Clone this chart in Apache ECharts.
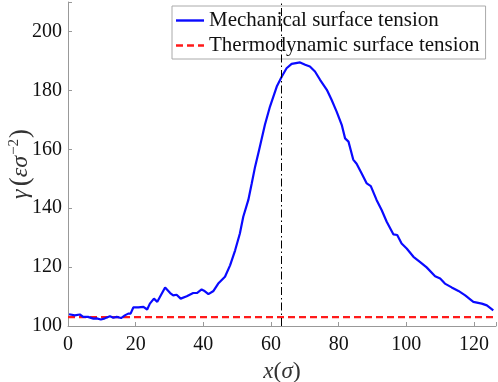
<!DOCTYPE html>
<html>
<head>
<meta charset="utf-8">
<script src="https://cdn.jsdelivr.net/npm/echarts@6/dist/echarts.min.js"></script>
<style>html,body{margin:0;padding:0;background:#fff}#c{width:498px;height:382px}</style>
</head>
<body>
<div id="c"></div>
<script>
const mechX = [0.3,2,3.5,4.5,5.9,7.5,8.5,9.7,10.9,12.4,13.4,14.4,15.7,16.8,17.8,18.5,19.3,20.8,22.3,23.4,24.2,25.4,26.4,27.2,28.7,30.2,31.1,32.1,33.3,35.1,37.0,38.1,39.5,40.2,41.5,43.0,44.4,46.4,47.9,49.4,50.8,51.8,53.3,54.3,55.3,56.5,58.2,59.7,61.7,63.2,64.6,66.1,68.6,70.1,71.5,73.0,74.5,76.5,77.9,79.4,80.9,81.9,82.9,84.3,85.3,86.8,88.3,89.5,91.2,92.7,94.2,96.2,97.3,98.6,100.1,102.1,104.0,106.0,108.5,110.0,111.4,113.4,115.4,117.4,119.8,122.3,123.8,125.7];
const mechY = [104.0,103.6,103.9,103.1,103.1,102.5,102.6,102.2,102.6,103.3,102.8,103.1,102.7,103.6,104.2,104.2,106.3,106.3,106.5,105.6,107.6,109.3,108.2,109.9,113.1,111.2,110.4,110.6,109.3,110.1,111.2,111.2,112.4,112.0,110.8,111.9,114.4,116.7,120.6,125.7,131.4,137.1,142.8,148.4,154.1,159.8,168.3,174.5,181.3,184.7,187.5,189.0,189.5,188.7,188.1,186.4,183.6,180.2,176.8,172.8,168.3,163.7,162.6,156.5,155.1,151.8,148.4,147.5,142.8,139.4,135.4,131.1,130.9,128.0,126.3,123.5,121.8,119.9,116.9,116.1,114.4,113.1,111.9,110.4,108.2,107.6,107.0,105.3];
const thermoX = [0, 126.5];
const thermoY = [103, 103];
const interfaceX = 63;
const xTicks = [0,20,40,60,80,100,120];
const yTicks = [100,120,140,160,180,200];
const seriesNames = ['Mechanical surface tension','Thermodynamic surface tension'];

const serif = 'Liberation Serif';
const chart = echarts.init(document.getElementById('c'), null, {renderer:'canvas'});
chart.setOption({
  animation:false,
  backgroundColor:'#fff',
  grid:{left:68, right:2, top:2, bottom:56, outerBoundsMode:'none', containLabel:false},
  legend:{
    orient:'vertical', left:172, top:6,
    data:[
      {name:seriesNames[0], icon:'path://M0,0H28V2.4H0Z'},
      {name:seriesNames[1], icon:'path://M0,0H7V2.4H0Z M11,0H18V2.4H11Z M22,0H28V2.4H22Z'}
    ],
    backgroundColor:'#fff', borderColor:'#aaa', borderWidth:1,
    padding:[4,6,3,4], itemGap:4, itemWidth:28, itemHeight:2.4,
    textStyle:{fontFamily:serif, fontSize:21, color:'#111', lineHeight:20, padding:[0,0,0,0]}
  },
  xAxis:{
    type:'value', min:0, max:126.5, interval:20,
    axisLine:{lineStyle:{color:'#999'}},
    axisTick:{inside:true, length:4, lineStyle:{color:'#999'}},
    splitLine:{show:false},
    axisLabel:{fontFamily:serif, fontSize:20, color:'#111', margin:9,
      formatter:v=>xTicks.includes(v)?String(v):''},
    name:'{i|x}{n|(}{i|σ}{n|)}', nameLocation:'middle', nameGap:34,
    nameTextStyle:{rich:{i:{fontFamily:serif, fontStyle:'italic', fontSize:23, color:'#333'}, n:{fontFamily:serif, fontSize:24, color:'#333'}}}
  },
  yAxis:{
    type:'value', min:100, max:210, interval:20,
    axisLine:{show:true, lineStyle:{color:'#999'}},
    axisTick:{show:true, inside:true, length:4, lineStyle:{color:'#999'}},
    splitLine:{show:false},
    axisLabel:{fontFamily:serif, fontSize:20, color:'#111', margin:6,
      formatter:v=>yTicks.includes(v)?String(v):''},
    name:'{i|γ} {n|(}{i|εσ}{s|−2}{n|)}', nameLocation:'middle', nameGap:34, nameMoveOverlap:false,
    nameTextStyle:{rich:{
      i:{fontFamily:serif, fontStyle:'italic', fontSize:24, color:'#333'},
      n:{fontFamily:serif, fontSize:27, color:'#333'},
      s:{fontFamily:serif, fontSize:15, color:'#333', verticalAlign:'top', padding:[0,1,12,1]}
    }}
  },
  series:[
    {name:seriesNames[0], type:'line', symbol:'none', z:3,
      data:mechX.map((x,i)=>[x,mechY[i]]),
      lineStyle:{color:'#0a0aff', width:2.2}, itemStyle:{color:'#0a0aff'},
      markLine:{silent:true, symbol:'none', label:{show:false},
        lineStyle:{color:'#000', width:1, type:[8,3,1.5,3]},
        data:[{xAxis:interfaceX}]}
    },
    {name:seriesNames[1], type:'line', symbol:'none', z:2,
      data:thermoX.map((x,i)=>[x,thermoY[i]]),
      lineStyle:{color:'#ff1a1a', width:2.2, type:[7,4]}, itemStyle:{color:'#ff1a1a'}
    }
  ]
});
</script>
</body>
</html>
